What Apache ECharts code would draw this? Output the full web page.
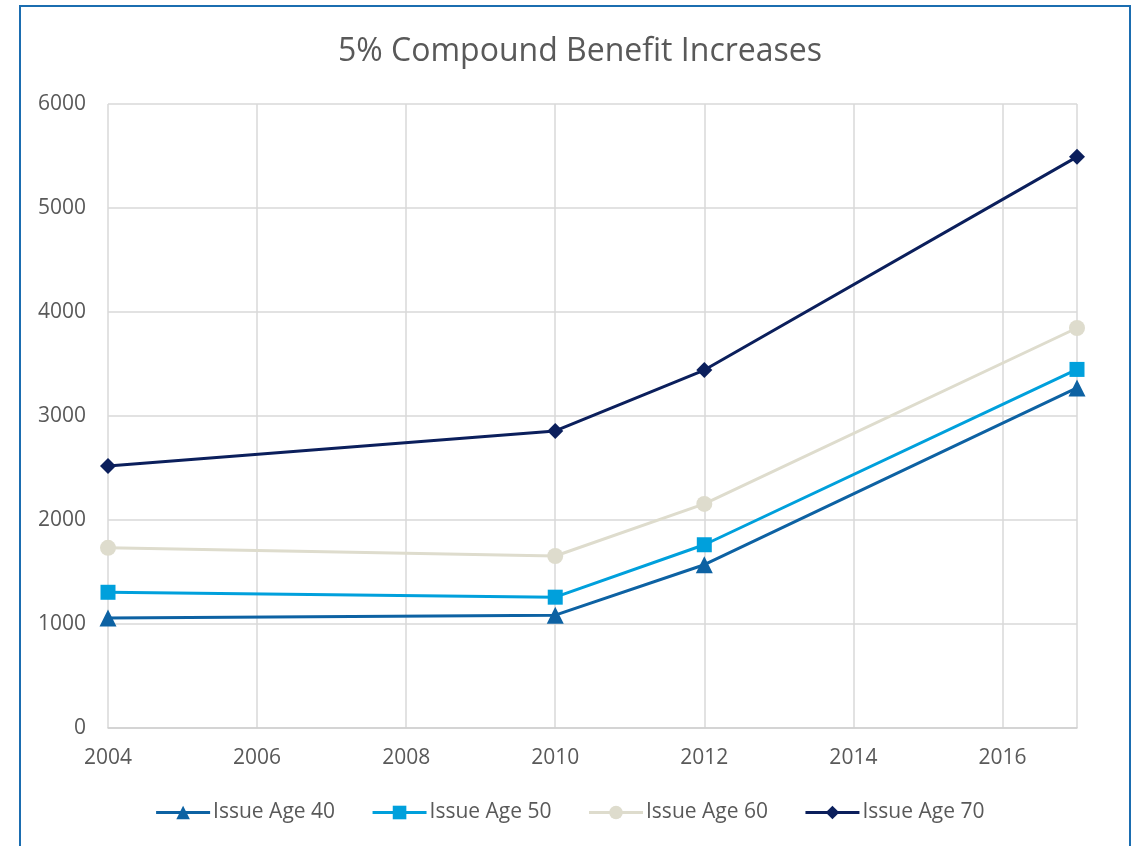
<!DOCTYPE html>
<html><head><meta charset="utf-8">
<script src="https://cdn.jsdelivr.net/npm/echarts@6/dist/echarts.min.js"></script>
<style>html,body{margin:0;padding:0;background:#fff}#c{width:1139px;height:846px}</style>
</head><body><div id="c"></div>
<script>
const years = [2004, 2010, 2012, 2017];
const seriesNames = ['Issue Age 40', 'Issue Age 50', 'Issue Age 60', 'Issue Age 70'];
const age40 = [1058, 1085, 1570, 3270];
const age50 = [1305, 1258, 1762, 3448];
const age60 = [1732, 1654, 2155, 3846];
const age70 = [2519, 2856, 3442, 5492];
const xTicks = [2004, 2006, 2008, 2010, 2012, 2014, 2016];
const yTicks = [0, 1000, 2000, 3000, 4000, 5000, 6000];

const colors = ['#0d62a3', '#00a0dc', '#dedccd', '#0b1f5c'];
const symbols = ['triangle', 'rect', 'circle', 'diamond'];
const symSizes = [17, 15, 16, 16];
const allData = [age40, age50, age60, age70];

const chart = echarts.init(document.getElementById('c'));
const font = '"Open Sans", "Noto Sans", sans-serif';
chart.setOption({
  animation: false,
  textStyle: { fontFamily: font },
  graphic: [{
    type: 'rect', shape: { x: 20, y: 6, width: 1110, height: 860 },
    style: { fill: 'none', stroke: '#1b6db0', lineWidth: 2 }, z: 100
  }],
  title: {
    text: '5% Compound Benefit Increases', left: 575, textAlign: 'center', top: 31,
    textStyle: { fontFamily: font, fontSize: 32, fontWeight: 'normal', color: '#595959' }
  },
  legend: {
    bottom: 18, left: 'center', itemWidth: 54, itemHeight: 17, itemGap: 36,
    data: seriesNames,
    lineStyle: { width: 3 },
    textStyle: { fontFamily: font, fontSize: 21, color: '#595959', padding: [0,0,0,-2] }
  },
  grid: { left: 108, right: 62, top: 104, bottom: 118, containLabel: false },
  xAxis: {
    type: 'value', min: 2004, max: 2017, interval: 2,
    axisLine: { show: true, lineStyle: { color: '#d0d0d0', width: 1.5 } },
    axisTick: { show: false },
    axisLabel: { fontFamily: font, fontSize: 21, color: '#595959', margin: 20,
      formatter: v => xTicks.includes(v) ? String(v) : '' , showMaxLabel: false},
    splitLine: { show: true, lineStyle: { color: '#d9d9d9', width: 1.5 } }
  },
  yAxis: {
    type: 'value', min: 0, max: 6000, interval: 1000,
    axisLine: { show: false }, axisTick: { show: false },
    axisLabel: { fontFamily: font, fontSize: 21, color: '#595959', margin: 22,
      formatter: v => yTicks.includes(v) ? String(v) : '' },
    splitLine: { show: true, lineStyle: { color: '#d9d9d9', width: 1.5 } }
  },
  series: seriesNames.map((n, i) => ({
    name: n, type: 'line',
    data: years.map((y, j) => [y, allData[i][j]]),
    symbol: symbols[i], symbolSize: symSizes[i], showAllSymbol: true,
    itemStyle: { color: colors[i] },
    lineStyle: { color: colors[i], width: 3 },
    z: 10 - i
  }))
});
</script></body></html>
